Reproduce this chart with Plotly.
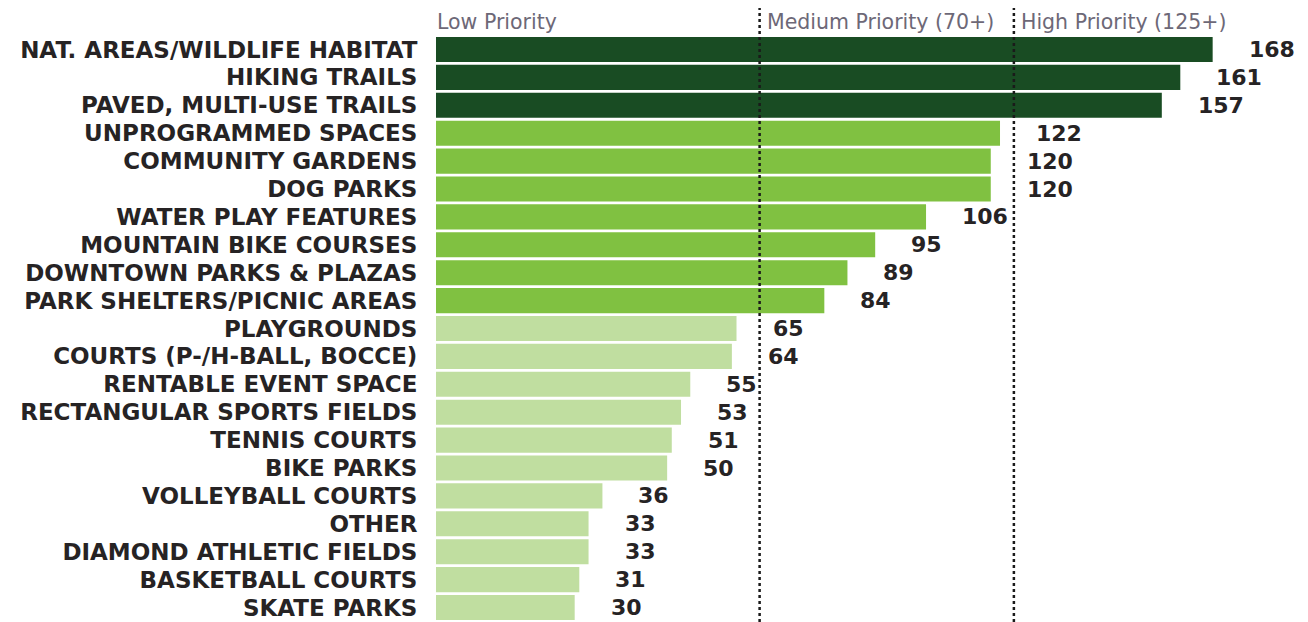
import plotly.graph_objects as go

categories = [
    "NAT. AREAS/WILDLIFE HABITAT", "HIKING TRAILS", "PAVED, MULTI-USE TRAILS",
    "UNPROGRAMMED SPACES", "COMMUNITY GARDENS", "DOG PARKS", "WATER PLAY FEATURES",
    "MOUNTAIN BIKE COURSES", "DOWNTOWN PARKS & PLAZAS", "PARK SHELTERS/PICNIC AREAS",
    "PLAYGROUNDS", "COURTS (P-/H-BALL, BOCCE)", "RENTABLE EVENT SPACE",
    "RECTANGULAR SPORTS FIELDS", "TENNIS COURTS", "BIKE PARKS", "VOLLEYBALL COURTS",
    "OTHER", "DIAMOND ATHLETIC FIELDS", "BASKETBALL COURTS", "SKATE PARKS",
]
values = [168, 161, 157, 122, 120, 120, 106, 95, 89, 84, 65, 64, 55, 53, 51, 50, 36, 33, 33, 31, 30]

thresholds = [70, 125]
zone_labels = ["Low Priority", "Medium Priority (70+)", "High Priority (125+)"]
zone_starts = [0, 70, 125]

COL_HIGH = "#194c23"
COL_MED = "#80c141"
COL_LOW = "#c0dea0"

def color_for(v):
    if v >= thresholds[1]:
        return COL_HIGH
    if v >= thresholds[0]:
        return COL_MED
    return COL_LOW

# the page body adds an 8px margin around the figure
W, H = 1300, 614
ML, MR, MT, MB = 428, 0, 27, 0
px_per_unit = 4.623
xmax = (W - ML - MR) / px_per_unit
plot_h = H - MT - MB

TEXT = "#262324"
FONT = "DejaVu Sans"

fig = go.Figure()
fig.add_trace(go.Bar(
    y=categories, x=values, orientation="h",
    marker=dict(color=[color_for(v) for v in values], line=dict(width=0)),
    hoverinfo="skip",
))

# value labels
for c, v in zip(categories, values):
    fig.add_annotation(
        x=v, y=c, xref="x", yref="y", text=str(v), showarrow=False,
        xanchor="left", yanchor="middle", xshift=34,
        font=dict(family=FONT, size=22, color=TEXT, weight="bold"),
    )

# threshold dotted lines
top_paper = 1 + (MT + 8 - 7) / plot_h
for t in thresholds:
    fig.add_shape(
        type="line", x0=t, x1=t, xref="x", y0=0, y1=top_paper, yref="paper",
        line=dict(color="#1a1a1a", width=2.5, dash="dot"), layer="above",
    )

# zone header labels
for s, lab in zip(zone_starts, zone_labels):
    fig.add_annotation(
        x=s, y=1, xref="x", yref="paper", text=lab, showarrow=False,
        xanchor="left", yanchor="bottom", xshift=(-1 if s == 0 else 5), yshift=-1,
        font=dict(family=FONT, size=20.5, color="#6d6877"),
    )

fig.update_layout(
    width=W, height=H,
    margin=dict(l=ML, r=MR, t=MT, b=MB, pad=0),
    paper_bgcolor="white", plot_bgcolor="white",
    bargap=0.1, showlegend=False,
    xaxis=dict(range=[0, xmax], visible=False, fixedrange=True),
    yaxis=dict(
        autorange="reversed", showgrid=False, zeroline=False, showline=False,
        tickmode="array", tickvals=categories, ticktext=categories,
        ticks="outside", ticklen=13, tickcolor="rgba(0,0,0,0)",
        tickfont=dict(family=FONT, size=23, color=TEXT, weight="bold"),
        fixedrange=True,
    ),
)

fig.write_html("out.html")
